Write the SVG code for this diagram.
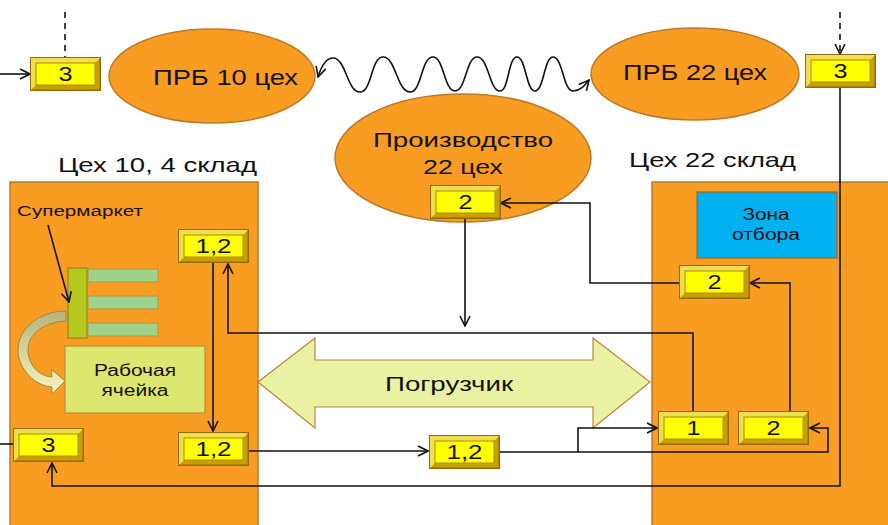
<svg xmlns="http://www.w3.org/2000/svg" xmlns:xlink="http://www.w3.org/1999/xlink" width="888" height="525" viewBox="0 0 888 525">
<style>
.org{fill:#F99C22;stroke:#BC7A28;stroke-width:1.5}
.t{font-family:"Liberation Sans",Arial,sans-serif;fill:#111;text-anchor:middle}
.tl{font-family:"Liberation Sans",Arial,sans-serif;fill:#111}
.kbo{fill:#C9A000;stroke:#946A10;stroke-width:1.5}
.kbl{fill:#F0DE50}
.kbi{fill:#FFFF00;stroke:#B08C00;stroke-width:1}
.ln{fill:none;stroke:#111;stroke-width:1.6}
.arr{marker-end:url(#ah)}
.dash{stroke-dasharray:6,5}
</style>
<defs>
<marker id="ah" viewBox="0 0 12 12" refX="11" refY="6" markerWidth="12" markerHeight="12" markerUnits="userSpaceOnUse" orient="auto-start-reverse">
<path d="M1,1 L11,6 L1,11" fill="none" stroke="#111" stroke-width="1.6"/>
</marker>
<symbol id="kb" viewBox="0 0 71 34" width="71" height="34">
<rect class="kbo" x="0.75" y="0.75" width="69.5" height="32.5"/>
<polygon class="kbl" points="1,1 70,1 65,6 6,6 6,28 1,33"/>
<rect class="kbi" x="6" y="6" width="59" height="22"/>
</symbol>
<linearGradient id="cg" x1="0" y1="0" x2="0" y2="1">
<stop offset="0" stop-color="#B5B57A"/>
<stop offset="1" stop-color="#F5F5BE"/>
</linearGradient>
</defs>
<rect width="888" height="525" fill="#fff"/>

<g id="warehouse10">
<rect class="org" x="10" y="182" width="248" height="350"/>
<text class="tl" x="58" y="172" font-size="21" textLength="199" lengthAdjust="spacingAndGlyphs">Цех 10, 4 склад</text>
</g>
<g id="warehouse22">
<rect class="org" x="652" y="182" width="245" height="350"/>
<text class="tl" x="629" y="167" font-size="21" textLength="167" lengthAdjust="spacingAndGlyphs">Цех 22 склад</text>
</g>
<g id="zone">
<rect x="697" y="192" width="140" height="66" fill="#00B0F0" stroke="#9C6A20" stroke-width="1.2"/>
<text class="t" x="766" y="220" font-size="16" textLength="47" lengthAdjust="spacingAndGlyphs">Зона</text>
<text class="t" x="766" y="240" font-size="16" textLength="68" lengthAdjust="spacingAndGlyphs">отбора</text>
</g>
<g id="prb10">
<ellipse class="org" cx="212" cy="76" rx="103" ry="47"/>
<text class="tl" x="153" y="85" font-size="22" textLength="145" lengthAdjust="spacingAndGlyphs">ПРБ 10 цех</text>
</g>
<g id="prb22">
<ellipse class="org" cx="695" cy="74" rx="104" ry="46"/>
<text class="tl" x="623" y="80" font-size="22" textLength="144" lengthAdjust="spacingAndGlyphs">ПРБ 22 цех</text>
</g>
<g id="production22">
<ellipse class="org" cx="463" cy="158" rx="128" ry="64"/>
<text class="tl" x="373" y="147" font-size="21" textLength="180" lengthAdjust="spacingAndGlyphs">Производство</text>
<text class="tl" x="423" y="174" font-size="21" textLength="80" lengthAdjust="spacingAndGlyphs">22 цех</text>
</g>
<g id="supermarket">
<rect x="68" y="268" width="19" height="70" fill="#B4C81E" stroke="#8A7A20" stroke-width="1"/>
<rect x="88" y="269" width="70" height="13" fill="#9DD38A" stroke="#C0923A" stroke-width="1"/>
<rect x="88" y="296" width="70" height="13" fill="#9DD38A" stroke="#C0923A" stroke-width="1"/>
<rect x="88" y="323" width="70" height="13" fill="#9DD38A" stroke="#C0923A" stroke-width="1"/>
<text class="tl" x="17" y="216" font-size="14" textLength="126" lengthAdjust="spacingAndGlyphs">Супермаркет</text>
</g>
<g id="curved-arrow">
<path d="M66,311 C40,311 18,328 18,350 C18,370 36,386 52,387 L52,394 L65,381 L51,369 L52,377 C38,376 28,364 28,350 C28,334 44,322 66,321 Z" fill="url(#cg)" stroke="#A08840" stroke-width="1"/>
</g>
<g id="workcell">
<rect x="65" y="346" width="140" height="67" fill="#DCE770" stroke="#B89040" stroke-width="1.2"/>
<text class="t" x="135" y="376" font-size="16" textLength="82" lengthAdjust="spacingAndGlyphs">Рабочая</text>
<text class="t" x="135" y="396" font-size="16" textLength="67" lengthAdjust="spacingAndGlyphs">ячейка</text>
</g>
<g id="forklift">
<polygon points="258,382 315,338 315,360 593,360 593,338 650,382 593,428 593,407 315,407 315,428" fill="#E9F2A2" stroke="#B8863B" stroke-width="1.2"/>
<text class="tl" x="385" y="391" font-size="21" textLength="128" lengthAdjust="spacingAndGlyphs">Погрузчик</text>
</g>

<g id="connectors">
<path class="ln arr" d="M0,74 H30"/>
<path class="ln dash" d="M65,12 V57"/>
<path class="ln dash arr" d="M840,12 V54"/>
<path class="ln arr" style="marker-start:url(#ah)" d="M318,77 C322,64 327,58 333,58 C346,58 347,92 360,92 C372,92 371,57 383,57 C396,57 397,92 410,92 C422,92 421,57 433,57 C444,57 444,91 455,91 C466,91 466,57 477,57 C489,57 489,91 500,91 C509,91 508,57 517,57 C526,57 526,91 535,91 C544,91 544,57 553,57 C563,57 563,91 573,91 C580,91 584,86 589,80"/>
<path class="ln arr" d="M48,225 L69,302"/>
<path class="ln arr" d="M465,219 V326"/>
<path class="ln arr" d="M679,283 H590 V203 H501"/>
<path class="ln arr" d="M790,411 V283 H750"/>
<path class="ln arr" d="M693,411 V333 H228 V264"/>
<path class="ln arr" d="M213,263 V431"/>
<path class="ln arr" d="M249,451 H428"/>
<path class="ln arr" d="M500,452 H828 V428 H810"/>
<path class="ln arr" d="M578,452 V428 H657"/>
<path class="ln arr" d="M840,88 V486 H52 V463"/>
<path class="ln" d="M0,444 H13"/>
</g>

<g id="k3-prb10"><use href="#kb" x="30" y="57"/><text class="t" x="65.5" y="81" font-size="20" textLength="14" lengthAdjust="spacingAndGlyphs">3</text></g>
<g id="k3-prb22"><use href="#kb" x="805" y="54"/><text class="t" x="840.5" y="78" font-size="20" textLength="14" lengthAdjust="spacingAndGlyphs">3</text></g>
<g id="k2-prod"><use href="#kb" x="430" y="185"/><text class="t" x="465.5" y="209" font-size="20" textLength="14" lengthAdjust="spacingAndGlyphs">2</text></g>
<g id="k12-upper"><use href="#kb" x="178" y="229"/><text class="t" x="213.5" y="253" font-size="20" textLength="36" lengthAdjust="spacingAndGlyphs">1,2</text></g>
<g id="k12-lower"><use href="#kb" x="178" y="432"/><text class="t" x="213.5" y="456" font-size="20" textLength="36" lengthAdjust="spacingAndGlyphs">1,2</text></g>
<g id="k3-w10"><use href="#kb" x="13" y="428"/><text class="t" x="48.5" y="452" font-size="20" textLength="14" lengthAdjust="spacingAndGlyphs">3</text></g>
<g id="k12-mid"><use href="#kb" x="429" y="435"/><text class="t" x="464.5" y="459" font-size="20" textLength="36" lengthAdjust="spacingAndGlyphs">1,2</text></g>
<g id="k1-w22"><use href="#kb" x="658" y="411"/><text class="t" x="693.5" y="435" font-size="20" textLength="14" lengthAdjust="spacingAndGlyphs">1</text></g>
<g id="k2-w22"><use href="#kb" x="738" y="411"/><text class="t" x="773.5" y="435" font-size="20" textLength="14" lengthAdjust="spacingAndGlyphs">2</text></g>
<g id="k2-upper"><use href="#kb" x="679" y="265"/><text class="t" x="714.5" y="289" font-size="20" textLength="14" lengthAdjust="spacingAndGlyphs">2</text></g>
</svg>
